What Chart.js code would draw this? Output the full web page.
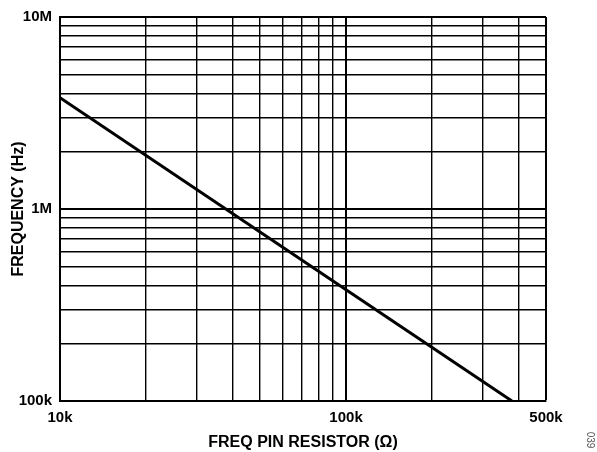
<!DOCTYPE html>
<html>
<head>
<meta charset="utf-8">
<script src="https://cdn.jsdelivr.net/npm/chart.js@4.4.1/dist/chart.umd.min.js"></script>
<style>
  html, body { margin: 0; padding: 0; background: #fff; }
  #wrap { width: 597px; height: 452px; position: relative; }
</style>
</head>
<body>
<div id="wrap"><canvas id="grafico"></canvas></div>
<script>
// resistor (ohm) vs output frequency (Hz)
var resistor = [10000, 100000, 380000];
var frequency = [3800000, 380000, 100000];

// grid positions on both log axes
var xGrid = [10000, 20000, 30000, 40000, 50000, 60000, 70000, 80000, 90000,
             100000, 200000, 300000, 400000, 500000];
var yGrid = [100000, 200000, 300000, 400000, 500000, 600000, 700000, 800000, 900000,
             1000000, 2000000, 3000000, 4000000, 5000000, 6000000, 7000000, 8000000, 9000000,
             10000000];

var xLabels = { 10000: "10k", 100000: "100k", 500000: "500k" };
var yLabels = { 100000: "100k", 1000000: "1M", 10000000: "10M" };

var punti = [];
for (var i = 0; i < resistor.length; i++) {
    punti.push({ x: resistor[i], y: frequency[i] });
}

var font = "'Liberation Sans', Arial, sans-serif";

// figure number on the right edge
var numeroFigura = {
    id: "numeroFigura",
    afterDraw: function (chart) {
        var ctx = chart.ctx;
        ctx.save();
        ctx.translate(590, 440);
        ctx.rotate(Math.PI / 2);
        ctx.fillStyle = "#555";
        ctx.font = "10px " + font;
        ctx.textAlign = "center";
        ctx.textBaseline = "middle";
        ctx.fillText("039", 0, 0);
        ctx.restore();
    }
};

var ctx = document.getElementById("grafico");
var chart = new Chart(ctx, {
    type: "line",
    data: {
        datasets: [{
            data: punti,
            borderColor: "#000",
            borderWidth: 3,
            pointRadius: 0,
            fill: false,
            tension: 0
        }]
    },
    options: {
        responsive: true,
        maintainAspectRatio: false,
        animation: false,
        layout: { padding: { left: 0, right: 51, top: 14, bottom: 0 } },
        plugins: { legend: { display: false }, tooltip: { enabled: false } },
        scales: {
            x: {
                type: "logarithmic",
                min: 10000,
                max: 500000,
                afterBuildTicks: function (scale) {
                    scale.ticks = xGrid.map(function (v) { return { value: v }; });
                },
                afterFit: function (scale) { scale.height = 51; },
                ticks: {
                    autoSkip: false,
                    maxRotation: 0,
                    padding: 8,
                    color: "#000",
                    font: { family: font, size: 15, weight: "bold" },
                    callback: function (v) { return xLabels[v] || ""; }
                },
                grid: {
                    drawTicks: false,
                    color: "#000",
                    lineWidth: function (c) {
                        var v = c.tick && c.tick.value;
                        return (v === 100000 || v === 500000) ? 2 : 1.4;
                    }
                },
                border: { color: "#000", width: 2 },
                title: {
                    display: true,
                    text: "FREQ PIN RESISTOR (Ω)",
                    color: "#000",
                    font: { family: font, size: 16, weight: "bold" },
                    padding: { top: 0, bottom: 0 }
                }
            },
            y: {
                type: "logarithmic",
                min: 100000,
                max: 10000000,
                afterBuildTicks: function (scale) {
                    scale.ticks = yGrid.map(function (v) { return { value: v }; });
                },
                afterFit: function (scale) { scale.width = 60; },
                ticks: {
                    autoSkip: false,
                    padding: 8,
                    color: "#000",
                    font: { family: font, size: 15, weight: "bold" },
                    callback: function (v) { return yLabels[v] || ""; }
                },
                grid: {
                    drawTicks: false,
                    color: "#000",
                    lineWidth: function (c) {
                        var v = c.tick && c.tick.value;
                        return (v === 1000000 || v === 10000000) ? 2 : 1.4;
                    }
                },
                border: { color: "#000", width: 2 },
                title: {
                    display: true,
                    text: "FREQUENCY (Hz)",
                    color: "#000",
                    font: { family: font, size: 16, weight: "bold" },
                    padding: { top: 9, bottom: 0 }
                }
            }
        }
    },
    plugins: [numeroFigura]
});
</script>
</body>
</html>
